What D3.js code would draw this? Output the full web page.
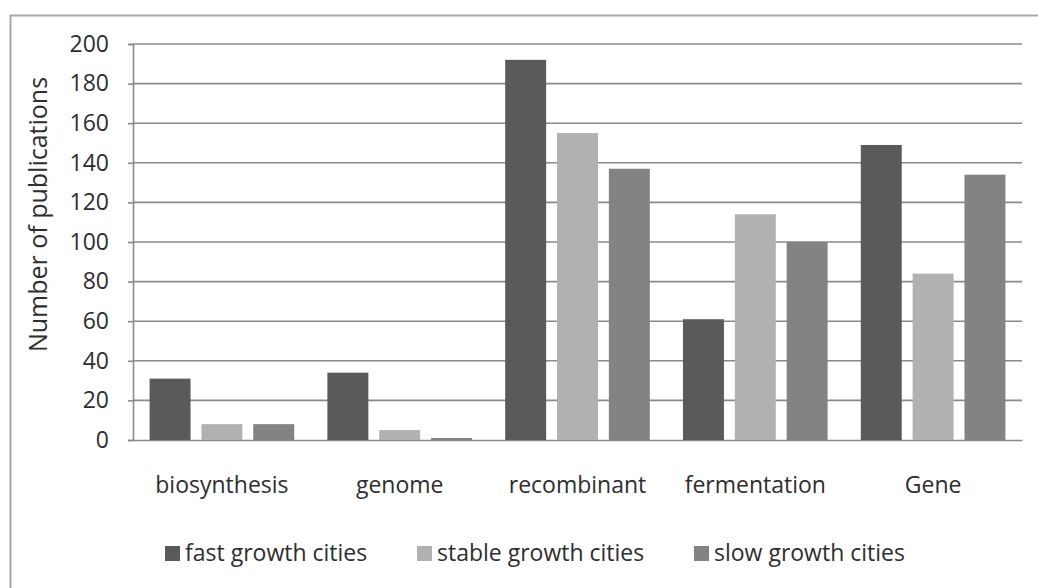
<!DOCTYPE html>
<html>
<head>
<meta charset="utf-8">
<script src="https://cdn.jsdelivr.net/npm/d3@7/dist/d3.min.js"></script>
<style>
  html, body { margin: 0; padding: 0; background: #fff; }
  svg { display: block; }
  svg text { font-family: "Open Sans", sans-serif; }
</style>
</head>
<body>
<svg id="chart" width="1038" height="588"></svg>
<script>
// Publication counts by topic for three groups of cities
const categories = ["biosynthesis", "genome", "recombinant", "fermentation", "Gene"];
const seriesNames = ["fast growth cities", "stable growth cities", "slow growth cities"];
const fastGrowth = [31, 34, 192, 61, 149];
const stableGrowth = [8, 5, 155, 114, 84];
const slowGrowth = [8, 1, 137, 100, 134];
const yTicks = [0, 20, 40, 60, 80, 100, 120, 140, 160, 180, 200];
const seriesColors = ["#5a5a5a", "#b1b1b1", "#838383"];

const seriesValues = [fastGrowth, stableGrowth, slowGrowth];

const svg = d3.select("#chart");
const W = 1038, H = 588;
const plot = { left: 133, right: 1022, top: 44, bottom: 440 };
const textColor = "#2e2e2e";
const fontFamily = "'Open Sans', sans-serif";

// Outer chart frame (extends past the right and bottom edges)
svg.append("rect")
  .attr("x", 10.5).attr("y", 15.5)
  .attr("width", W + 20).attr("height", H + 20)
  .attr("fill", "#fff")
  .attr("stroke", "#a8a8a8")
  .attr("stroke-width", 2);

const x0 = d3.scaleBand()
  .domain(categories)
  .range([plot.left, plot.right])
  .padding(0);

const x1 = d3.scaleBand()
  .domain(seriesNames)
  .range([0, x0.bandwidth()])
  .paddingInner(0.21)
  .paddingOuter(0.32);

const y = d3.scaleLinear()
  .domain([0, 200])
  .range([plot.bottom, plot.top]);

// Horizontal gridlines
svg.append("g")
  .selectAll("line")
  .data(yTicks.filter(t => t > 0))
  .join("line")
  .attr("x1", plot.left).attr("x2", plot.right)
  .attr("y1", d => y(d)).attr("y2", d => y(d))
  .attr("stroke", "#8a8a8a")
  .attr("stroke-width", 1.6);

// Value axis
const yAxis = d3.axisLeft(y)
  .tickValues(yTicks)
  .tickSize(5)
  .tickPadding(19)
  .tickFormat(d3.format("d"));

const gy = svg.append("g")
  .attr("transform", `translate(${plot.left},0)`)
  .call(yAxis)
  .attr("font-family", fontFamily);
gy.select(".domain").attr("stroke", "#8a8a8a").attr("stroke-width", 1.6);
gy.selectAll(".tick line").attr("stroke", "#8a8a8a").attr("stroke-width", 1.6);
gy.selectAll(".tick text")
  .attr("fill", textColor)
  .style("font-size", "23px");

// Category axis
const xAxis = d3.axisBottom(x0).tickSize(0).tickPadding(37);
const gx = svg.append("g")
  .attr("transform", `translate(0,${plot.bottom})`)
  .call(xAxis)
  .attr("font-family", fontFamily);
gx.select(".domain").attr("stroke", "#8a8a8a").attr("stroke-width", 1.6);
gx.selectAll(".tick text")
  .attr("fill", textColor)
  .style("font-size", "23px");

// Bars
const groups = svg.append("g")
  .selectAll("g")
  .data(categories)
  .join("g")
  .attr("transform", d => `translate(${x0(d)},0)`);

groups.selectAll("rect")
  .data((c, i) => seriesNames.map((s, k) => ({ series: s, k, value: seriesValues[k][i] })))
  .join("rect")
  .attr("x", d => x1(d.series))
  .attr("width", x1.bandwidth())
  .attr("y", d => y(d.value))
  .attr("height", d => y(0) - y(d.value))
  .attr("fill", d => seriesColors[d.k]);

// Y axis title
svg.append("text")
  .attr("transform", `translate(47,${(72 + 357) / 2}) rotate(-90)`)
  .attr("text-anchor", "middle")
  .attr("fill", textColor)
  .style("font-size", "25px")
  .text("Number of publications");

// Legend
const legendX = [165, 417, 694];
const legend = svg.append("g")
  .selectAll("g")
  .data(seriesNames)
  .join("g")
  .attr("transform", (d, i) => `translate(${legendX[i]},553)`);

legend.append("rect")
  .attr("x", 0).attr("y", -7)
  .attr("width", 15).attr("height", 15)
  .attr("fill", (d, i) => seriesColors[i]);

legend.append("text")
  .attr("x", 20).attr("y", 0)
  .attr("dy", "0.35em")
  .attr("fill", textColor)
  .style("font-size", "23px")
  .text(d => d);
</script>
</body>
</html>
